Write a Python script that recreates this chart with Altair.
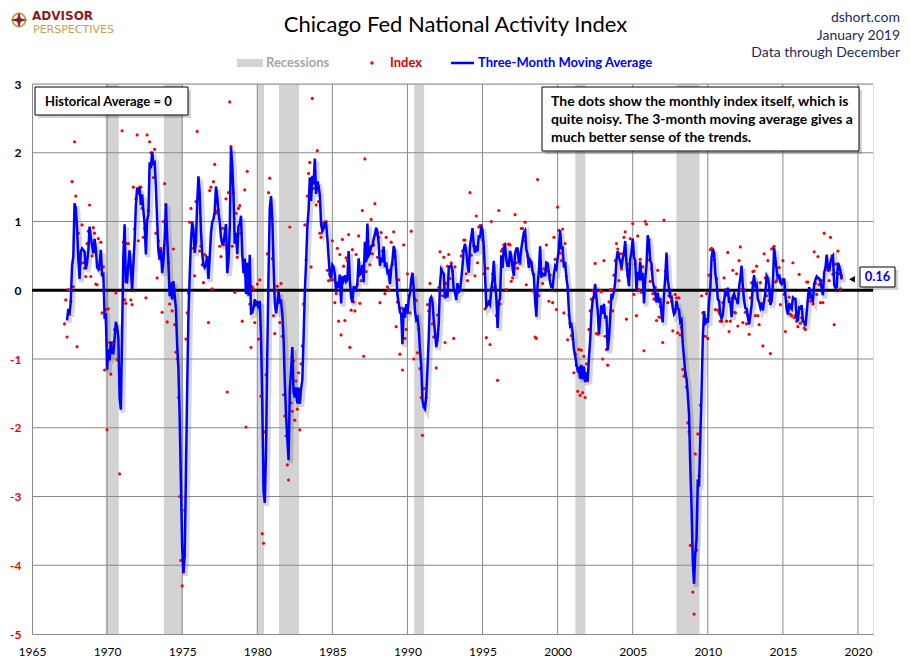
import altair as alt
import pandas as pd

# ---------------- data ----------------
# Monthly index values, Mar 1967 .. Dec 2018
idx_1960s = [
    -0.49, -0.14, -0.68, 0.01, -0.35, -0.16, 1.58, 0.05, 2.16, 1.37,
    -0.82, 0.83, 0.48, 0.39, 0.95, 0.40, 0.32, 0.20, 0.68, 0.86, 1.24, 0.20,
    0.50, 0.91, 0.83, 0.09, 0.08, 0.75, 0.31, 0.70, -0.33, 0.34, -1.16, -0.28,
]
idx_1970s = [
    -2.03, -0.27, -0.76, -1.22, -0.76, -0.77, -0.57, -0.04, -1.01, -1.02, -2.67, -1.52,
    2.32, 0.70, -0.14, -0.19, 0.68, 0.68, 0.38, -0.14, -0.21, 1.50, 0.89, 1.33,
    2.26, 0.72, 1.50, 1.50, 1.19, 0.77, 0.90, -0.11, 2.26, 1.16, 2.16, 2.00,
    1.89, 1.64, 2.05, 0.83, 0.18, 0.72, 0.46, 0.61, -0.32, 1.00, 1.55, 1.24,
    -0.46, 0.40, -0.20, 0.10, -0.30, 0.60, -0.50, -0.90, -1.00, -1.56, -3.00, -3.93,
    -4.30, -4.10, -3.20, -0.71, -0.33, -0.04, 0.99, 1.19, 0.81, 0.61, 0.21, 1.29,
    2.31, 1.37, 0.57, 0.64, 0.37, 0.11, 0.52, 0.50, 0.46, -0.47, 1.45, 1.50,
    0.02, 1.58, 1.83, 1.12, 1.15, 1.17, 0.64, 0.49, 0.90, 0.66, 0.90, 1.33,
    -1.48, 1.42, 2.74, 2.09, 0.64, 1.42, -0.03, 1.12, 0.48, 1.19, 1.23, 0.83,
    -0.45, 0.37, 1.46, -1.99, 1.73, 0.02, -0.20, -0.83, 0.05, 0.02, -0.47, -0.17,
]
idx_1980s = [
    0.09, -0.71, 0.15, -1.54, -3.54, -3.68, -2.06, -1.23, 0.53, 1.42, 1.63, 1.06,
    0.46, -0.37, -0.63, -0.01, 0.06, -0.10, -0.47, 0.10, -0.67, -1.52, -1.83, -2.12,
    -2.54, -2.76, 0.92, -1.64, -1.76, -1.03, -1.89, -1.32, -1.73, -1.20, -2.03, -1.07,
    -0.81, -0.20, 0.95, 0.44, 1.37, 1.70, 1.86, 0.34, 2.79, 1.48, 1.48, 1.24,
    2.03, 1.29, 0.83, 0.77, 0.98, 0.95, 0.99, 1.00, 0.29, 0.14, 0.23, 0.15,
    0.72, 0.15, -0.18, -0.05, 0.61, -0.45, 0.52, -0.65, 0.74, 0.35, -0.44, 0.47,
    0.43, 0.81, -0.83, -0.29, 0.59, -0.17, -0.30, 0.52, 0.08, 0.79, -0.19, 0.14,
    1.16, -0.96, 1.91, 0.27, 0.73, 0.52, 0.37, 1.03, 0.53, 0.66, 1.26, 0.81,
    0.48, 0.77, -0.18, 0.84, 0.57, 0.50, -0.05, 0.77, 0.05, 0.01, 0.21, 0.70,
    0.38, 0.85, 0.48, -0.53, -0.17, 0.15, -0.93, -0.26, -1.16, 0.66, -0.70, -0.57,
]
idx_1990s = [
    0.24, -0.07, -0.33, 0.86, 0.23, -1.00, -0.13, -0.15, -0.91, -0.57, -1.14, -1.56,
    -2.11, -1.43, -1.64, -1.56, -0.21, -0.30, 0.10, -0.11, -0.49, -0.68, -0.67, -1.13,
    -0.36, 0.04, 0.56, 0.31, -0.08, 0.48, -0.76, 0.10, 0.35, 0.52, 0.17, 0.40,
    0.28, -0.70, 0.34, -0.07, 0.04, -0.02, 0.00, 0.50, 0.57, 0.73, 0.73, 0.24,
    0.14, 0.39, 1.42, 0.51, 0.78, 0.65, 0.21, 1.08, 0.40, 0.92, 0.94, 0.94,
    0.73, 0.24, -0.27, -0.69, 0.32, -0.16, -0.79, 1.00, 0.24, 0.04, 0.04, -0.37,
    -1.31, 1.16, -0.20, 0.57, 0.60, 0.66, 0.67, 0.01, 0.39, 0.67, 0.66, 0.13,
    0.18, 0.32, 1.10, 0.40, 0.32, 0.53, 0.39, 0.90, 0.90, 0.72, 0.99, 0.08,
    0.50, 0.40, 0.42, 0.40, -0.01, 0.23, -0.68, -0.70, 1.61, -0.08, 0.39, 0.24,
    0.10, 0.31, 0.24, 0.66, 0.28, -0.16, 0.22, 0.08, -0.18, 0.77, 0.45, -0.28,
]
idx_2000s = [
    1.21, 0.87, 0.54, 0.43, 0.89, -0.33, 0.68, 0.20, -0.72, -0.36, -0.48, -0.66,
    -0.71, -1.20, -0.93, -1.09, -1.47, -0.86, -1.53, -0.87, -1.49, -0.96, -1.56, -1.07,
    -1.32, -0.57, -0.30, -0.13, -0.01, -0.10, 0.39, -0.63, -0.64, -0.63, -0.01, -0.02,
    -1.00, 0.43, -0.67, -0.86, -1.09, -0.17, 0.01, 0.01, -0.30, 0.22, 0.43, 0.68,
    0.60, 0.14, 0.53, 0.31, 0.53, 0.77, 0.85, -0.42, 0.22, 0.38, 0.75, 0.53,
    0.97, -0.06, 0.38, -0.37, 0.79, 0.01, 0.45, -0.03, 0.34, -0.88, 1.00, 0.96,
    0.44, 0.73, 0.13, 0.31, -0.05, -0.13, 0.04, -0.44, 0.29, -0.39, -0.24, -0.40,
    -0.76, 1.02, 0.28, 0.35, -0.18, -0.08, -0.04, -0.16, -0.59, -0.29, -0.06, -0.11,
    -0.62, -0.11, -0.65, -0.54, -1.15, -1.25, -1.21, -1.41, -1.93, -2.06, -3.71, -3.71,
    -4.39, -4.71, -2.38, -3.78, -2.09, -2.70, -1.67, -0.08, -0.33, -0.50, -0.67, -0.05,
]
idx_2010s = [
    -0.70, 0.22, 0.59, 0.61, 0.59, 0.44, -0.28, 0.17, -0.29, -0.33, -0.45, -0.45,
    -0.18, 0.18, 0.01, -0.45, 0.55, -0.60, -0.45, -0.12, 0.29, -0.32, -0.33, 0.24,
    -0.52, 0.43, 0.63, 0.01, -0.47, 0.01, -0.32, -0.49, -0.36, -0.64, -0.11, 0.11,
    0.27, 0.28, -0.37, 0.35, -0.37, -0.50, 0.11, -0.19, -0.81, 0.53, 0.18, -0.08,
    0.43, -0.15, -0.92, 0.60, 0.61, 0.64, 0.12, 0.14, 0.22, 0.33, -0.21, 0.15,
    0.43, -0.06, -0.60, -0.16, -0.30, -0.10, -0.35, -0.37, 0.40, -0.40, -0.37, -0.45,
    -0.53, 0.23, -0.48, -0.40, -0.45, -0.55, -0.57, 0.12, 0.12, -0.11, -0.16, -0.10,
    -0.20, 0.56, 0.10, -0.06, 0.49, 0.08, -0.18, 0.14, -0.18, 0.83, 0.32, 0.40,
    0.29, 0.14, 0.77, 0.50, 0.23, -0.50, 0.38, 0.25, 0.57, 0.24, 0.02, 0.21,
]
start_year = 1967
start_month = 3

recess_start = [1969.91, 1973.78, 1980.00, 1981.45, 1990.45, 2001.18, 2007.91]
recess_end = [1970.78, 1975.03, 1980.45, 1982.78, 1991.11, 2001.85, 2009.45]

x_ticks = [1965, 1970, 1975, 1980, 1985, 1990, 1995, 2000, 2005, 2010, 2015, 2020]
y_ticks = [-5, -4, -3, -2, -1, 0, 1, 2, 3]
x_grid = x_ticks[1:]
y_grid = y_ticks[1:]

last_value = 0.16
last_label = "0.16"

title_text = "Chicago Fed National Activity Index"
source_lines = "dshort.com\nJanuary 2019\nData through December"
hist_note = "Historical Average = 0"
note_text = ("The dots show the monthly  index itself, which is\n"
             "quite noisy. The 3-month moving average gives a\n"
             "much better sense of the trends.")

# ---------------- build table ----------------
values = idx_1960s + idx_1970s + idx_1980s + idx_1990s + idx_2000s + idx_2010s
t = [start_year + (start_month - 1 + i) / 12 for i in range(len(values))]
df = pd.DataFrame({"t": t, "v": values})
one = pd.DataFrame({"k": [0]})

FONT = "Lato"
GRID = "#8a8a8a"
W, H = 841, 550

xs = alt.Scale(domain=[1965, 2021], nice=False, zero=False)
ys = alt.Scale(domain=[-5, 3], nice=False, zero=False)
x_axis = alt.Axis(values=x_ticks, format="d", grid=False, ticks=False,
                  domainColor=GRID, labelFontSize=12, labelColor="black",
                  labelPadding=12, labelFlush=False, labelOverlap=False,
                  title=None, labelFont=FONT)
y_axis = alt.Axis(values=y_ticks, grid=False, ticks=False, domainColor=GRID,
                  labelFontSize=12, labelFontWeight="bold",
                  labelExpr="datum.value < 0 ? '-' + abs(datum.value) : '' + datum.value",
                  labelColor={"condition": {"test": "datum.value < 0", "value": "#FF0000"},
                              "value": "#000000"},
                  labelPadding=11, title=None, labelFont=FONT)


def X(field):
    return alt.X(field, scale=xs, axis=x_axis)


def Y(field):
    return alt.Y(field, scale=ys, axis=y_axis)


recess = alt.Chart(pd.DataFrame({"s": recess_start, "e": recess_end})).mark_rect(
    color="#d3d3d3").encode(x=X("s:Q"), x2="e:Q",
                            y=alt.Y(datum=3, scale=ys, axis=y_axis), y2=alt.Y2(datum=-5))

vgrid = alt.Chart(pd.DataFrame({"g": x_grid})).mark_rule(
    color=GRID, strokeWidth=1).encode(x=X("g:Q"))
hgrid = alt.Chart(pd.DataFrame({"h": y_grid})).mark_rule(
    color=GRID, strokeWidth=1).encode(y=Y("h:Q"))
zero = alt.Chart(one).mark_rule(color="black", strokeWidth=3).encode(
    y=alt.Y(datum=0, scale=ys, axis=y_axis))

dots = alt.Chart(df).mark_circle(size=10, color="#FF0000", opacity=1).encode(
    x=X("t:Q"), y=Y("v:Q"))

ma_base = alt.Chart(df).transform_window(
    ma="mean(v)", cnt="count(v)", frame=[-2, 0], sort=[alt.SortField("t")]
).transform_filter("datum.cnt == 3")
ma_shadow = ma_base.mark_line(color="#444444", opacity=0.22, strokeWidth=5,
                              xOffset=2, yOffset=3).encode(x=X("t:Q"), y=Y("ma:Q"))
ma_line = ma_base.mark_line(color="#0000FF", strokeWidth=2.5).encode(
    x=X("t:Q"), y=Y("ma:Q"))


def box(x1, y1, x2, y2):
    sh = alt.Chart(one).mark_rect(fill="#000000", opacity=0.18).encode(
        x=alt.value(x1 + 3), x2=alt.value(x2 + 3), y=alt.value(y1 + 3), y2=alt.value(y2 + 3))
    bx = alt.Chart(one).mark_rect(fill="white", stroke="black", strokeWidth=1).encode(
        x=alt.value(x1), x2=alt.value(x2), y=alt.value(y1), y2=alt.value(y2))
    return [sh, bx]


def text(s, x, y, font=FONT, **kw):
    return alt.Chart(one).mark_text(font=font, **kw).encode(
        x=alt.value(x), y=alt.value(y), text=alt.value(s))


layers = [recess, vgrid, hgrid, zero, dots, ma_shadow, ma_line]

# annotation boxes
layers += box(3, 3, 156, 31)
layers.append(text(hist_note, 13, 18, align="left", baseline="middle",
                   fontSize=13, fontWeight="bold", color="black"))
layers += box(510, 3, 827, 67)
layers.append(text(note_text, 519, 18, align="left", baseline="middle",
                   fontSize=14, fontWeight="bold", color="black",
                   lineBreak="\n", lineHeight=18))
layers += box(828, 183, 863, 203)
layers.append(text(last_label, 845.5, 193, align="center", baseline="middle",
                   fontSize=13, fontWeight="bold", color="#0000FF"))
layers.append(alt.Chart(one).mark_point(shape="triangle-left", filled=True,
                                        color="black", size=45, opacity=1).encode(
    x=alt.value(820), y=alt.Y(datum=last_value, scale=ys, axis=y_axis)))

# legend
layers.append(alt.Chart(one).mark_rect(color="#d3d3d3").encode(
    x=alt.value(205), x2=alt.value(231), y=alt.value(-25), y2=alt.value(-17)))
layers.append(text("Recessions", 234, -21, align="left", baseline="middle",
                   fontSize=13, fontWeight="bold", color="#a6a6a6"))
layers.append(alt.Chart(one).mark_circle(color="#FF0000", size=12, opacity=1).encode(
    x=alt.value(340), y=alt.value(-21)))
layers.append(text("Index", 358, -21, align="left", baseline="middle",
                   fontSize=13, fontWeight="bold", color="#E00000"))
layers.append(alt.Chart(one).mark_rule(color="#0000FF", strokeWidth=2.5).encode(
    x=alt.value(419), x2=alt.value(442), y=alt.value(-21)))
layers.append(text("Three-Month Moving Average", 446, -21, align="left",
                   baseline="middle", fontSize=13, fontWeight="bold", color="#0000FF"))

# title and source
layers.append(text(title_text, 423.5, -52, align="center", baseline="alphabetic",
                   fontSize=22, color="black"))
layers.append(text(source_lines, 868, -62, align="right", baseline="alphabetic",
                   fontSize=14, color="#1f2a5c", lineBreak="\n", lineHeight=17.5))

# logo
layers.append(alt.Chart(one).mark_point(shape="circle", size=170, filled=False,
                                        color="#C9A04B", strokeWidth=2, opacity=1).encode(
    x=alt.value(-13), y=alt.value(-64)))
layers.append(alt.Chart(one).mark_point(
    shape="M0,-1L0.22,-0.22L1,0L0.22,0.22L0,1L-0.22,0.22L-1,0L-0.22,-0.22Z",
    size=260, filled=True, color="#8B1C24", opacity=1).encode(
    x=alt.value(-13), y=alt.value(-64)))
layers.append(text("ADVISOR", 0, -64.5, font="DejaVu Sans", align="left",
                   baseline="alphabetic", fontSize=12, fontWeight="bold", color="#8B1C24"))
layers.append(text("PERSPECTIVES", 1, -51.4, font="DejaVu Sans", align="left",
                   baseline="alphabetic", fontSize=11, color="#C9A04B"))

chart = alt.layer(*layers).properties(
    width=W, height=H,
    autosize=alt.AutoSizeParams(type="none"),
    padding={"left": 24, "top": 76, "right": 29, "bottom": 25},
).configure_view(stroke=None).configure(font=FONT)

chart.save("out.html", embed_options={"renderer": "svg", "actions": False})
